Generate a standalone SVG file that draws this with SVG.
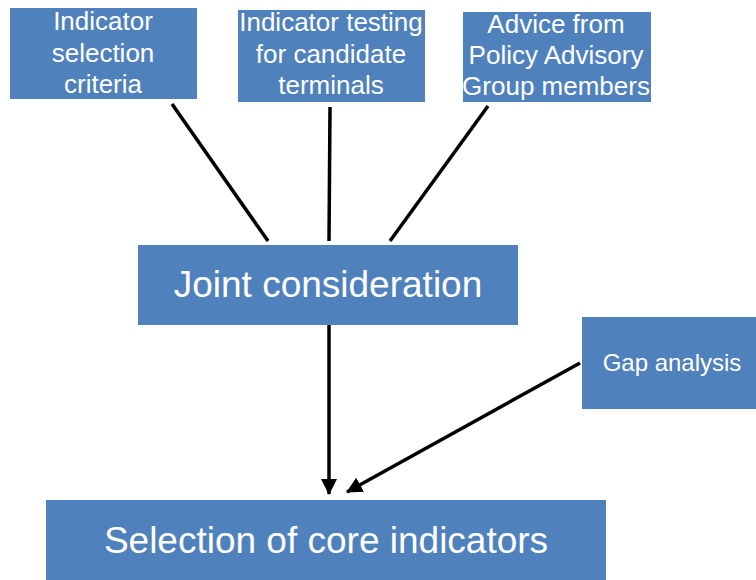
<svg xmlns="http://www.w3.org/2000/svg" width="756" height="580" viewBox="0 0 756 580">
<style>
.box{fill:#4F81BD;}
.t{font-family:"Liberation Sans",Arial,sans-serif;fill:#ffffff;text-anchor:middle;}
.s{font-size:26px;}
.m{font-size:24px;}
.l{font-size:37px;}
.c{stroke:#000;stroke-width:3.5;fill:none;}
</style>
<defs>
<marker id="ah" markerUnits="userSpaceOnUse" markerWidth="16" markerHeight="16" viewBox="0 0 16 16" refX="15" refY="8" orient="auto">
<path d="M0,0 L16,8 L0,16 Z" fill="#000"/>
</marker>
</defs>
<g id="connectors">
<line class="c" x1="172" y1="104" x2="268" y2="241"/>
<line class="c" x1="330" y1="107" x2="329" y2="241"/>
<line class="c" x1="488" y1="106" x2="390" y2="241"/>
<line class="c" x1="329" y1="325" x2="329" y2="494" marker-end="url(#ah)"/>
<line class="c" x1="580" y1="363" x2="347" y2="492" marker-end="url(#ah)"/>
</g>
<g id="n1">
<rect class="box" x="10" y="8" width="187" height="91"/>
<text class="t s" x="103" y="30">Indicator</text>
<text class="t s" x="103" y="62">selection</text>
<text class="t s" x="103" y="93">criteria</text>
</g>
<g id="n2">
<rect class="box" x="238" y="10" width="187" height="92"/>
<text class="t s" x="331" y="31">Indicator testing</text>
<text class="t s" x="331" y="63">for candidate</text>
<text class="t s" x="331" y="94">terminals</text>
</g>
<g id="n3">
<rect class="box" x="463" y="12" width="188" height="90"/>
<text class="t s" x="556" y="33">Advice from</text>
<text class="t s" x="556" y="64">Policy Advisory</text>
<text class="t s" x="556" y="95">Group members</text>
</g>
<g id="n4">
<rect class="box" x="138" y="245" width="380" height="80"/>
<text class="t l" x="328" y="297">Joint consideration</text>
</g>
<g id="n5">
<rect class="box" x="582" y="317" width="174" height="92"/>
<text class="t m" x="672" y="371">Gap analysis</text>
</g>
<g id="n6">
<rect class="box" x="46" y="500" width="560" height="80"/>
<text class="t l" x="326" y="553">Selection of core indicators</text>
</g>
</svg>
